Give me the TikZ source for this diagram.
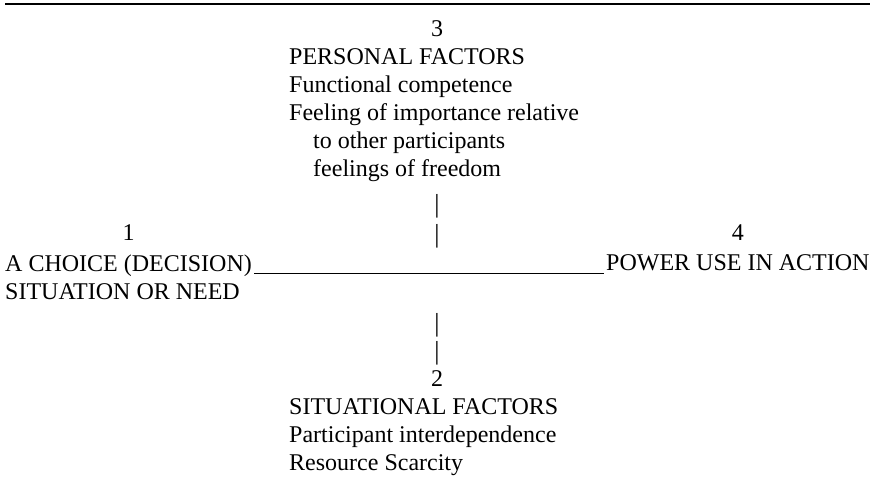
\documentclass[tikz,border=0pt]{standalone}
\usepackage{fontspec}
\setmainfont{Liberation Serif}
\usetikzlibrary{calc,positioning}

\tikzset{
  txt/.style={inner sep=0pt, font=\fontsize{24}{28}\selectfont, align=left},
  bar/.style={txt, anchor=base, font=\fontsize{26}{28}\selectfont},
}

\begin{document}
\begin{tikzpicture}[x=1pt,y=-1pt]
    \useasboundingbox (0,0) rectangle (873,489);
    \draw[line width=1.3pt] (5,4) -- (870,4);

    % top: personal factors (base = last line)
    \node[txt, anchor=base] (num3) at (437,37) {3};
    \node[txt, anchor=base west] (personal) at (289,177)
      {PERSONAL FACTORS\\Functional competence\\Feeling of importance relative\\
       \hspace*{1em}to other participants\\\hspace*{1em}feelings of freedom};
    \node[bar] (bar1) at (437,213) {|};
    \node[bar] (bar2) at (437,243) {|};

    % left and right
    \node[txt, anchor=base west] (choice) at (5,299)
      {A CHOICE (DECISION)\\SITUATION OR NEED};
    \node[txt, anchor=base west] (power) at (606,271) {POWER USE IN ACTION};
    \node[txt, anchor=base] (num1) at ([yshift=58pt]choice.base) {1};
    \node[txt, anchor=base] (num4) at ([yshift=30pt]power.base) {4};
    \draw[line width=1pt] ([xshift=2pt,yshift=-2pt]choice.east |- power.base)
      -- ([xshift=-2pt,yshift=-2pt]power.base west);

    % bottom: situational factors
    \node[bar] (bar3) at (437,331) {|};
    \node[bar] (bar4) at (437,359) {|};
    \node[txt, anchor=base] (num2) at (437,386) {2};
    \node[txt, anchor=base west] (situational) at (289,470)
      {SITUATIONAL FACTORS\\Participant interdependence\\Resource Scarcity};
\end{tikzpicture}
\end{document}
